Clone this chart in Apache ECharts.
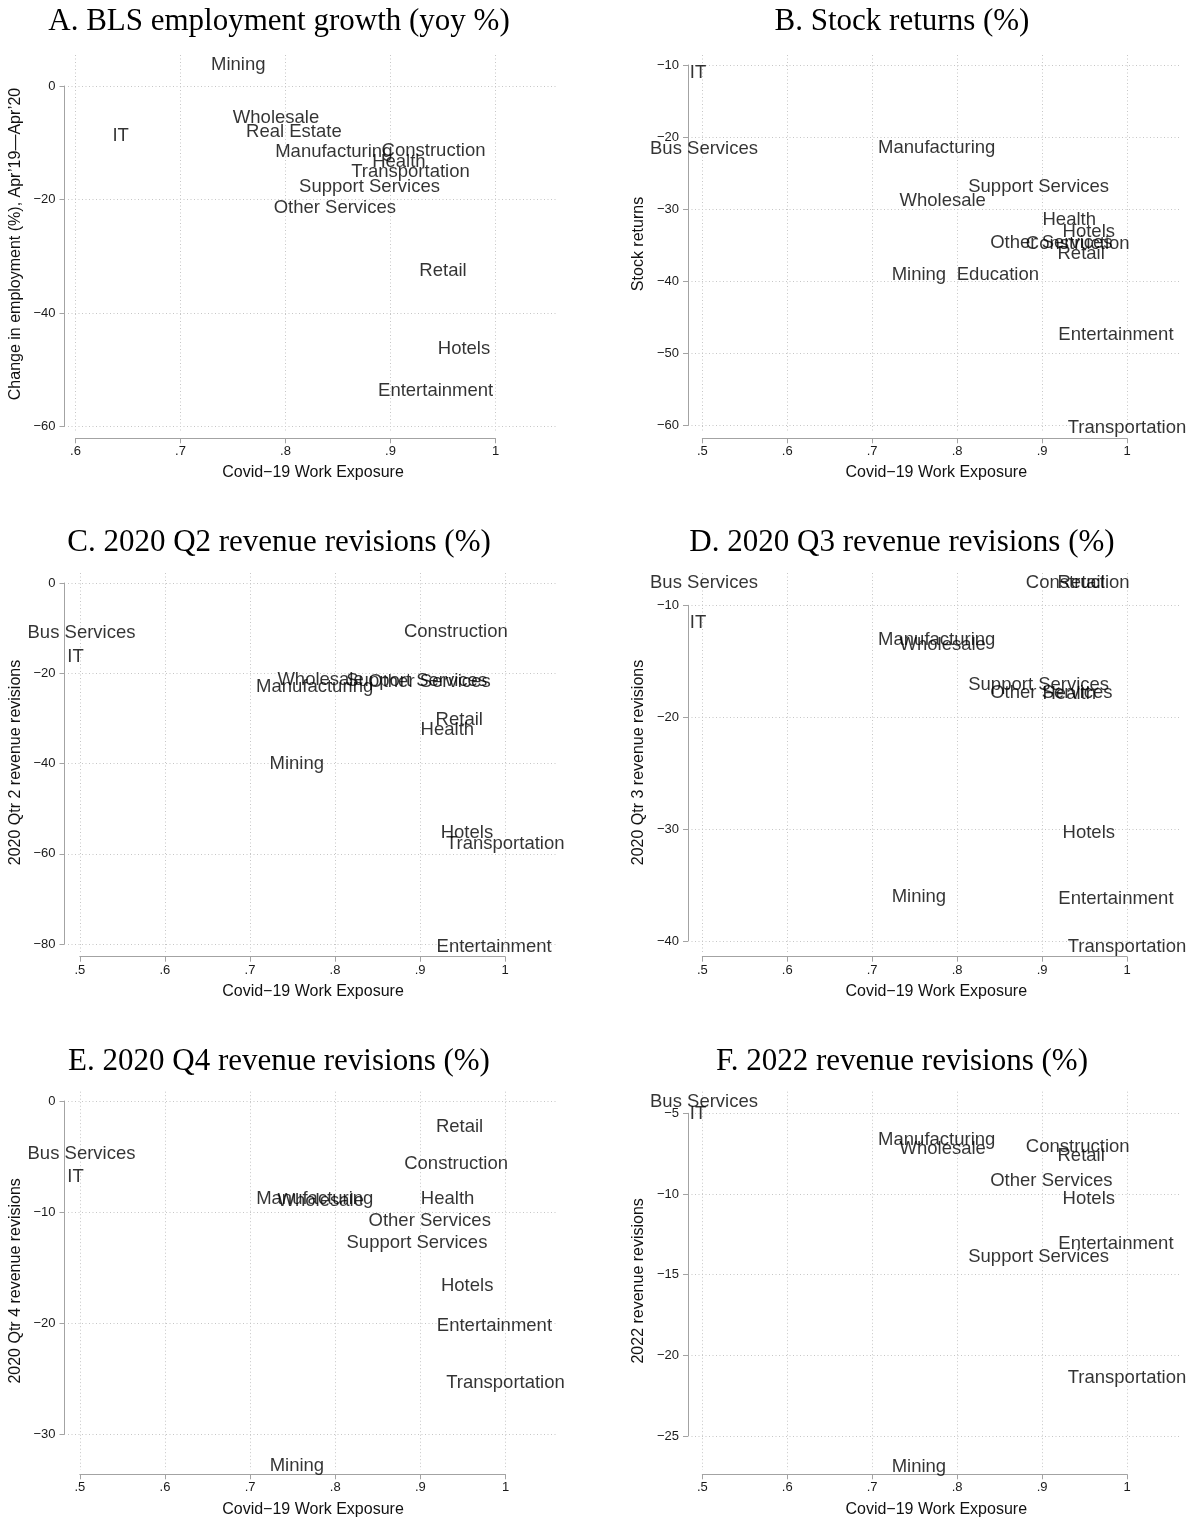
<!DOCTYPE html>
<html><head><meta charset="utf-8">
<script src="https://cdn.jsdelivr.net/npm/echarts@6/dist/echarts.min.js"></script>
<style>html,body{margin:0;padding:0;background:#fff}#c{width:1194px;height:1521px}</style>
</head><body><div id="c"></div>
<script>
// ---------- Panel A data ----------
const industriesA = ['Mining','Wholesale','Real Estate','IT','Manufacturing','Construction','Health','Transportation','Support Services','Other Services','Retail','Hotels','Entertainment'];
const exposureA = [0.755,0.791,0.808,0.643,0.846,0.941,0.908,0.919,0.880,0.847,0.950,0.970,0.943];
const employmentGrowth = [3.7,-5.6,-8.1,-8.8,-11.6,-11.45,-13.4,-15.15,-17.8,-21.5,-32.6,-46.3,-53.7];

// ---------- Panels B-F data ----------
const industries = ['IT','Bus Services','Mining','Manufacturing','Wholesale','Education','Support Services','Other Services','Health','Construction','Retail','Hotels','Entertainment','Transportation'];
const exposure = [0.495,0.502,0.755,0.776,0.783,0.848,0.896,0.911,0.932,0.942,0.946,0.955,0.987,1.0];
const stockReturns = [-11.1,-21.6,-39.1,-21.5,-28.9,-39.1,-26.9,-34.7,-31.5,-34.8,-36.2,-33.1,-47.5,-60.3];
const revQ2 = [-16.3,-11.15,-40.0,-23.0,-21.5,null,-21.6,-21.9,-32.6,-10.8,-30.4,-55.3,-80.6,-57.9];
const revQ3 = [-11.55,-8.03,-36.1,-13.1,-13.5,null,-17.1,-17.87,-17.9,-8.03,-8.0,-30.3,-36.2,-40.5];
const revQ4 = [-6.81,-4.77,-32.8,-8.85,-9.0,null,-12.75,-10.77,-8.82,-5.67,-2.31,-16.6,-20.25,-25.35];
const rev2022 = [-5.06,-4.28,-26.94,-6.65,-7.23,null,-13.9,-9.2,null,-7.07,-7.65,-10.3,-13.1,-21.4];

// ---------- Tick labels ----------
const xTicksA = [0.6,0.7,0.8,0.9,1];
const xTicks = [0.5,0.6,0.7,0.8,0.9,1];
const yTicksA = [-60,-40,-20,0];
const yTicksB = [-60,-50,-40,-30,-20,-10];
const yTicksC = [-80,-60,-40,-20,0];
const yTicksD = [-40,-30,-20,-10];
const yTicksE = [-30,-20,-10,0];
const yTicksF = [-25,-20,-15,-10,-5];

// ---------- Text ----------
const titles = ['A. BLS employment growth (yoy %)','B. Stock returns (%)','C. 2020 Q2 revenue revisions (%)','D. 2020 Q3 revenue revisions (%)','E. 2020 Q4 revenue revisions (%)','F. 2022 revenue revisions (%)'];
const yTitles = ['Change in employment (%), Apr\u201919\u2014Apr\u201920','Stock returns','2020 Qtr 2 revenue revisions','2020 Qtr 3 revenue revisions','2020 Qtr 4 revenue revisions','2022 revenue revisions'];
const xTitle = 'Covid\u221219 Work Exposure';

const panels = [
  {names: industriesA, xs: exposureA, ys: employmentGrowth, xt: xTicksA, yt: yTicksA},
  {names: industries, xs: exposure, ys: stockReturns, xt: xTicks, yt: yTicksB},
  {names: industries, xs: exposure, ys: revQ2, xt: xTicks, yt: yTicksC},
  {names: industries, xs: exposure, ys: revQ3, xt: xTicks, yt: yTicksD},
  {names: industries, xs: exposure, ys: revQ4, xt: xTicks, yt: yTicksE},
  {names: industries, xs: exposure, ys: rev2022, xt: xTicks, yt: yTicksF}
];

// ---------- Layout (pixels) ----------
const cols = [
  {axisX: 64.5, plotL: 68, plotR: 558, titleX: 279},
  {axisX: 688, plotL: 691.5, plotR: 1181, titleX: 902}
];
const rows = [
  {plotT: 55, plotB: 433, axisY: 438.3, titleY: 21.5},
  {plotT: 573, plotB: 952, axisY: 956.7, titleY: 542.5},
  {plotT: 1091.7, plotB: 1470, axisY: 1474.3, titleY: 1062}
];
// pixel positions of first/last tick of each panel
const tickPx = [
  {x: [75.5, 495.5], y: [426.5, 86]},
  {x: [702.3, 1127], y: [425.5, 65]},
  {x: [79.8, 505.2], y: [944, 583]},
  {x: [702.3, 1127], y: [941, 605.3]},
  {x: [79.8, 505.5], y: [1434.3, 1101]},
  {x: [702.3, 1127], y: [1436, 1113.3]}
];

const SANS = 'Liberation Sans, Arial, Helvetica, sans-serif';
const SERIF = 'Liberation Serif, Times New Roman, serif';
const gridColor = '#c6c6c6';
const axisColor = '#a3a3a3';

function toVal(t0, t1, p0, p1, p) { return t0 + (p - p0) * (t1 - t0) / (p1 - p0); }
const fmtX = v => { const s = String(+(+v).toFixed(2)); return s.replace(/^0\./, '.'); };
const fmtY = v => String(Math.round(v)).replace('-', '\u2212');

const grid = [], xAxis = [], yAxis = [], series = [], graphic = [];

panels.forEach((pn, i) => {
  const c = cols[i % 2], r = rows[Math.floor(i / 2)], tp = tickPx[i];
  const x0 = pn.xt[0], x1 = pn.xt[pn.xt.length - 1];
  const y0 = pn.yt[0], y1 = pn.yt[pn.yt.length - 1];
  const xStep = pn.xt[1] - pn.xt[0], yStep = pn.yt[1] - pn.yt[0];
  // plot-region grid
  grid.push({left: c.plotL, top: r.plotT, width: c.plotR - c.plotL, height: r.plotB - r.plotT, containLabel: false, outerBoundsMode: 'none'});
  // axis-only grid spanning the tick range
  grid.push({left: tp.x[0], top: tp.y[1], width: tp.x[1] - tp.x[0], height: tp.y[0] - tp.y[1], containLabel: false, outerBoundsMode: 'none'});
  const split = {show: true, showMinLine: false, showMaxLine: false, lineStyle: {color: gridColor, type: [1, 2.5], width: 1}};
  xAxis.push({
    gridIndex: 2 * i, type: 'value',
    min: toVal(x0, x1, tp.x[0], tp.x[1], c.plotL), max: toVal(x0, x1, tp.x[0], tp.x[1], c.plotR),
    minInterval: xStep, maxInterval: xStep, splitNumber: pn.xt.length - 1,
    axisLine: {show: false, onZero: false}, axisTick: {show: false}, axisLabel: {show: false}, splitLine: split,
    name: xTitle, nameLocation: 'middle', nameGap: 32,
    nameTextStyle: {fontFamily: SANS, fontSize: 16, color: '#111'}
  });
  yAxis.push({
    gridIndex: 2 * i, type: 'value',
    min: toVal(y0, y1, tp.y[0], tp.y[1], r.plotB), max: toVal(y0, y1, tp.y[0], tp.y[1], r.plotT),
    minInterval: yStep, maxInterval: yStep, splitNumber: pn.yt.length - 1,
    axisLine: {show: false, onZero: false}, axisTick: {show: false}, axisLabel: {show: false}, splitLine: split,
    name: yTitles[i], nameLocation: 'middle', nameGap: 44.5,
    nameTextStyle: {fontFamily: SANS, fontSize: 16, color: '#111'}
  });
  const axStyle = {color: axisColor, width: 1};
  xAxis.push({
    gridIndex: 2 * i + 1, type: 'value', min: x0, max: x1, interval: xStep, position: 'bottom',
    offset: r.axisY - tp.y[0],
    axisLine: {show: true, onZero: false, lineStyle: axStyle}, axisTick: {show: true, length: 5, lineStyle: axStyle},
    axisLabel: {show: true, formatter: fmtX, fontFamily: SANS, fontSize: 13, color: '#1a1a1a', margin: 7},
    splitLine: {show: false}
  });
  yAxis.push({
    gridIndex: 2 * i + 1, type: 'value', min: y0, max: y1, interval: yStep, position: 'left',
    offset: tp.x[0] - c.axisX,
    axisLine: {show: true, onZero: false, lineStyle: axStyle}, axisTick: {show: true, length: 5, lineStyle: axStyle},
    axisLabel: {show: true, formatter: fmtY, fontFamily: SANS, fontSize: 13, color: '#1a1a1a', margin: 9},
    splitLine: {show: false}
  });
  const data = [];
  pn.names.forEach((n, k) => {
    if (pn.ys[k] != null && pn.xs[k] != null) data.push({name: n, value: [pn.xs[k], pn.ys[k]]});
  });
  series.push({
    type: 'scatter', xAxisIndex: 2 * i, yAxisIndex: 2 * i, clip: false, silent: true,
    symbolSize: 1, itemStyle: {color: 'rgba(0,0,0,0)'},
    label: {show: true, position: 'inside', formatter: '{b}', color: '#000', fontFamily: SANS, fontSize: 18.5,
            textBorderWidth: 0, align: 'center', verticalAlign: 'middle'},
    emphasis: {disabled: true},
    data: data
  });
  graphic.push({
    type: 'text', x: c.titleX, y: r.titleY, silent: true,
    style: {text: titles[i], fill: '#000', font: '31px ' + SERIF, align: 'center', verticalAlign: 'middle',
            textAlign: 'center', textVerticalAlign: 'middle'}
  });
});

const chart = echarts.init(document.getElementById('c'), null, {renderer: 'canvas'});
chart.setOption({
  animation: false,
  backgroundColor: '#fff',
  textStyle: {fontFamily: SANS},
  grid, xAxis, yAxis, series, graphic
});
</script>
</body></html>
